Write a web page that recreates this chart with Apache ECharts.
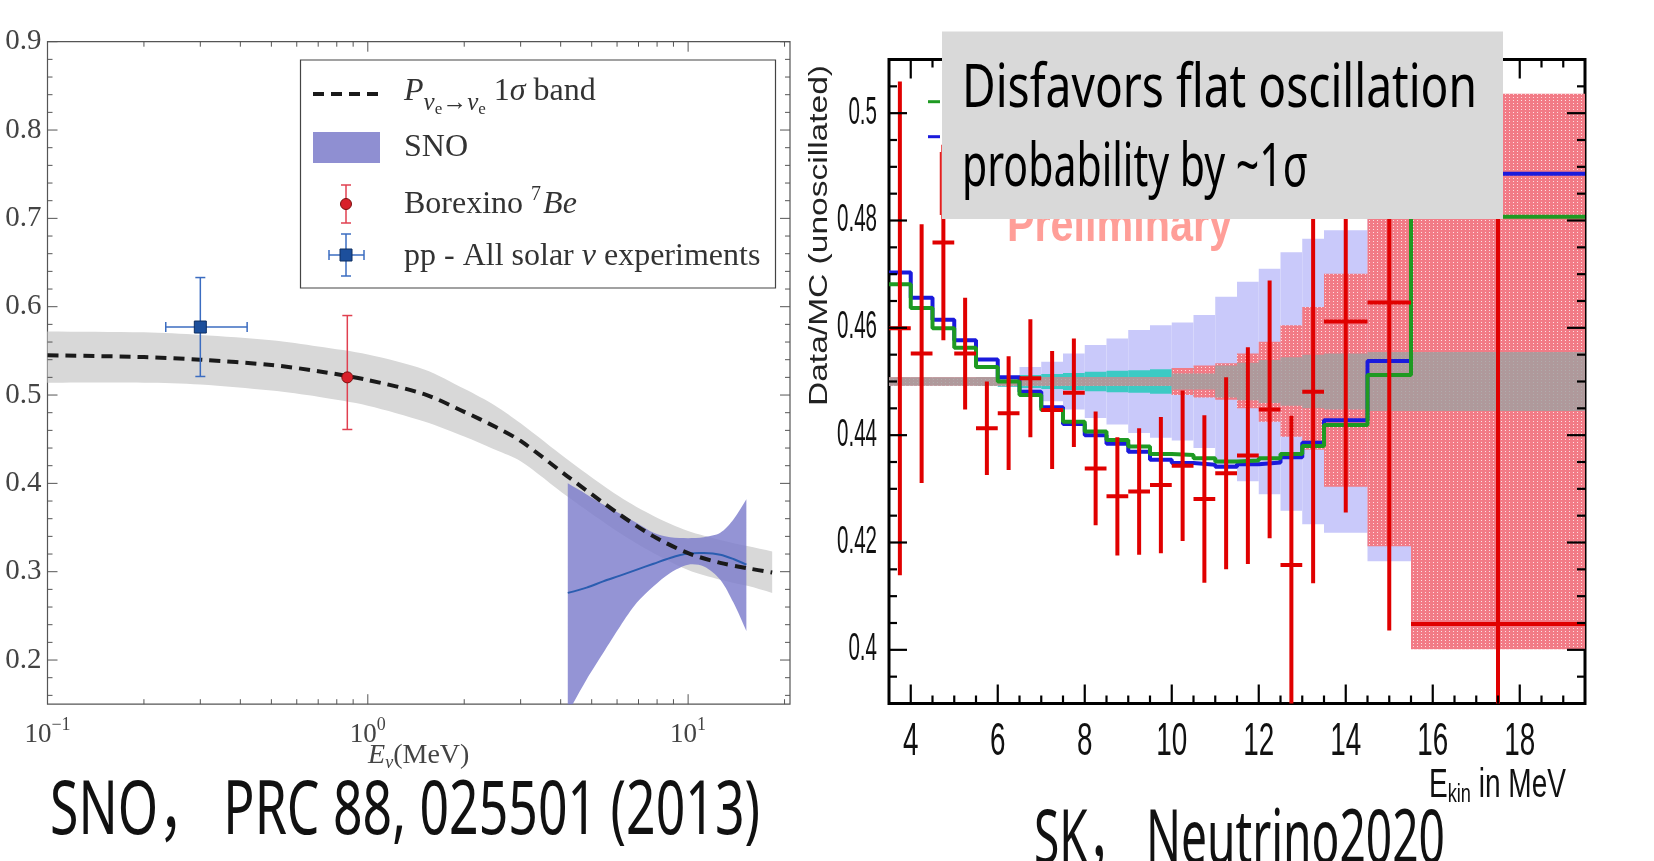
<!DOCTYPE html>
<html>
<head>
<meta charset="utf-8">
<title>Solar neutrino survival probability</title>
<script src="https://cdn.jsdelivr.net/npm/echarts@6/dist/echarts.min.js"></script>
<style>
  html, body { margin: 0; padding: 0; background: #fff; }
  #chart { width: 1654px; height: 861px; }
</style>
</head>
<body>
<div id="chart"></div>
<script>
// ---------- left panel: SNO, PRC 88 025501 (log energy axis) ----------
const pEnergy  = [0.1, 0.2, 0.3, 0.5, 0.7, 1.0, 1.5, 2.0, 2.5, 3.0, 4.2, 6.1, 7.8, 10, 12.6, 15.3, 18.3]
const pCentral = [0.545, 0.543, 0.540, 0.534, 0.527, 0.517, 0.501, 0.481, 0.464, 0.448, 0.408, 0.365, 0.340, 0.321, 0.310, 0.304, 0.299]
const pUpper   = [0.572, 0.571, 0.568, 0.562, 0.555, 0.546, 0.529, 0.507, 0.488, 0.468, 0.427, 0.385, 0.363, 0.346, 0.336, 0.329, 0.323]
const pLower   = [0.514, 0.514, 0.512, 0.505, 0.498, 0.488, 0.470, 0.453, 0.438, 0.425, 0.385, 0.344, 0.321, 0.302, 0.291, 0.284, 0.276]

const snoEnergy  = [4.21, 4.82, 5.43, 6.13, 6.92, 7.80, 8.79, 10.0, 11.2, 12.6, 13.85, 15.2]
const snoCentral = [0.276, 0.282, 0.289, 0.2955, 0.3024, 0.309, 0.3156, 0.3205, 0.3212, 0.3193, 0.3144, 0.308]
const snoUpper   = [0.400, 0.3875, 0.376, 0.3655, 0.355, 0.344, 0.339, 0.338, 0.339, 0.344, 0.359, 0.382]
const snoLower   = [0.140, 0.178, 0.208, 0.238, 0.265, 0.2835, 0.2986, 0.308, 0.306, 0.291, 0.265, 0.233]

// [E, P, Plow, Phigh, Elow, Ehigh]
const borexino = [[0.863, 0.520, 0.461, 0.590, 0.863, 0.863]]
const ppAll    = [[0.30, 0.577, 0.521, 0.633, 0.234, 0.42]]

const leftXMajor = [0.1, 1, 10]
const leftXMinor = [0.2, 0.3, 0.4, 0.5, 0.6, 0.7, 0.8, 0.9, 2, 3, 4, 5, 6, 7, 8, 9, 20]
const leftYMajor = [0.2, 0.3, 0.4, 0.5, 0.6, 0.7, 0.8, 0.9]
const LX = [0.1, 20.8], LY = [0.15, 0.9]

// ---------- right panel: SK, Neutrino2020 ----------
const skEdges = [3.5, 4, 4.5, 5, 5.5, 6, 6.5, 7, 7.5, 8, 8.5, 9, 9.5, 10, 10.5, 11, 11.5, 12, 12.5, 13, 13.5, 14.5, 15.5, 19.5]
const skRatio = [0.4599, 0.4552, 0.4759, 0.4552, 0.4413, 0.4441, 0.4506, 0.4447, 0.4479, 0.4338, 0.4286, 0.4295,
                 0.4307, 0.4343, 0.4281, 0.4329, 0.4362, 0.4448, 0.4158, 0.4481, 0.4612, 0.4647, 0.4048]
const skErr   = [0.046, 0.0241, 0.0182, 0.0104, 0.0087, 0.0106, 0.011, 0.011, 0.0101, 0.0106, 0.011, 0.0118,
                 0.0127, 0.014, 0.0156, 0.0179, 0.0202, 0.024, 0.0278, 0.0357, 0.0356, 0.0611, 0.1]
const skBlue  = [0.4703, 0.4656, 0.4615, 0.4577, 0.4541, 0.4508, 0.4481, 0.4452, 0.4421, 0.4400, 0.4384, 0.4369,
                 0.4354, 0.4348, 0.4345, 0.4341, 0.4346, 0.4349, 0.4359, 0.4386, 0.4428, 0.4538, 0.4887]
const skGreen = [0.4681, 0.4637, 0.4599, 0.4563, 0.4527, 0.4500, 0.4475, 0.4447, 0.4425, 0.4407, 0.4391, 0.4379,
                 0.4365, 0.4363, 0.4357, 0.4351, 0.4353, 0.4357, 0.4365, 0.4380, 0.4419, 0.4512, 0.4807]
const bandMid = 0.45
const lavHalf  = [0, 0, 0, 0, 0, 0.001, 0.0027, 0.0037, 0.0052, 0.0068, 0.008, 0.0096,
                  0.0105, 0.011, 0.0124, 0.0158, 0.0186, 0.021, 0.0241, 0.0266, 0.0282, 0.0335, 0.045]
const cyanHalf = [0.0006, 0.0006, 0.0006, 0.0006, 0.0008, 0.001, 0.0012, 0.0014, 0.0016, 0.0018, 0.002, 0.0021,
                  0.0023, 0.0025, 0.0027, 0.0029, 0.0031, 0.0034, 0.0037, 0.004, 0.0045, 0.005, 0.0053]
const pinkLow  = [0.4492, 0.4492, 0.4492, 0.4492, 0.4492, 0.4492, 0.4492, 0.4492, 0.4492, 0.4492, 0.4492, 0.4492,
                  0.4492, 0.4475, 0.4470, 0.4466, 0.4450, 0.4425, 0.4397, 0.4373, 0.4304, 0.4193, 0.4001]
const pinkHigh = [0.4508, 0.4508, 0.4508, 0.4508, 0.4508, 0.4508, 0.4508, 0.4508, 0.4508, 0.4508, 0.4508, 0.4508,
                  0.4508, 0.4525, 0.4530, 0.4534, 0.4552, 0.4574, 0.4605, 0.4639, 0.4701, 0.4807, 0.5036]
const grayHalf = [0.0008, 0.0008, 0.0008, 0.0008, 0.0008, 0.0008, 0.0008, 0.0008, 0.0008, 0.0008, 0.0008, 0.0008,
                  0.0008, 0.0015, 0.0015, 0.003, 0.0035, 0.004, 0.0045, 0.005, 0.0052, 0.0055, 0.0055]

const rightXMajor = [4, 6, 8, 10, 12, 14, 16, 18]
const rightYMajor = [0.40, 0.42, 0.44, 0.46, 0.48, 0.50]
const RX = [3.5, 19.5], RY = [0.39, 0.51]

// ---------- helpers ----------
const SERIF = "'Liberation Serif', 'DejaVu Serif', serif"
const SANS = "'Liberation Sans', Arial, sans-serif"
const CAPTION = "'Noto Sans', 'Noto Sans CJK SC', sans-serif"

const measureCtx = document.createElement('canvas').getContext('2d')
function textWidth(text, font) {
  measureCtx.font = font
  return measureCtx.measureText(text).width
}
function fitText(text, family, size, weight, x, y, width, fill, z) {
  const font = (weight ? weight + ' ' : '') + size + 'px ' + family
  return {
    type: 'text', x: x, y: y, z: z || 60, scaleX: width / textWidth(text, font),
    style: { text: text, font: font, fill: fill, align: 'left', verticalAlign: 'middle',
             textAlign: 'left', textVerticalAlign: 'middle' }
  }
}
function isIn(list, v) { return list.some((m) => Math.abs(m - v) < 1e-9) }
function steps(lo, hi, step) {
  const out = []
  for (let v = lo; v <= hi + 1e-9; v += step) out.push(+v.toFixed(4))
  return out
}
function ln(x1, y1, x2, y2, color, w, z) {
  return { type: 'line', z: z || 0, shape: { x1, y1, x2, y2 }, style: { stroke: color, lineWidth: w } }
}

// pink hatched fill like the ROOT pattern
const tile = document.createElement('canvas')
tile.width = 4; tile.height = 3
const tc = tile.getContext('2d')
tc.fillStyle = '#f27b86'; tc.fillRect(0, 0, 4, 3)
tc.fillStyle = '#fde0e3'; tc.fillRect(1, 1, 1, 1)
const pinkFill = { image: tile, repeat: 'repeat' }

// tick marks on all four sides, placed by the axis scales
function xTickSeries(xi, yi, ticks, majors, yExt, majLen, minLen, color, w) {
  return {
    type: 'custom', xAxisIndex: xi, yAxisIndex: yi, z: 20, silent: true,
    data: ticks.map((v) => [v, yExt[0]]),
    renderItem(params, api) {
      const v = api.value(0)
      const b = api.coord([v, yExt[0]]), t = api.coord([v, yExt[1]])
      const len = isIn(majors, v) ? majLen : minLen
      return { type: 'group', children: [ln(b[0], b[1], b[0], b[1] - len, color, w), ln(t[0], t[1], t[0], t[1] + len, color, w)] }
    }
  }
}
function yTickSeries(xi, yi, ticks, majors, xExt, majLen, minLen, color, w) {
  return {
    type: 'custom', xAxisIndex: xi, yAxisIndex: yi, z: 20, silent: true,
    data: ticks.map((v) => [xExt[0], v]),
    renderItem(params, api) {
      const v = api.value(1)
      const l = api.coord([xExt[0], v]), r = api.coord([xExt[1], v])
      const len = isIn(majors, v) ? majLen : minLen
      return { type: 'group', children: [ln(l[0], l[1], l[0] + len, l[1], color, w), ln(r[0], r[1], r[0] - len, r[1], color, w)] }
    }
  }
}

// smooth filled band between two curves (sharp ends kept by doubling the corner points)
function bandCurve(xs, lo, hi, fill, z) {
  return {
    type: 'custom', xAxisIndex: 0, yAxisIndex: 0, z: z, clip: true, silent: true,
    data: [[xs[0], hi[0]]],
    renderItem(params, api) {
      const up = xs.map((x, i) => api.coord([x, hi[i]]))
      const dn = xs.map((x, i) => api.coord([x, lo[i]])).reverse()
      const n = up.length
      const pts = [up[0]].concat(up, [up[n - 1]], [dn[0]], dn, [dn[n - 1]])
      return { type: 'polygon', shape: { points: pts, smooth: 0.3 }, style: { fill: fill } }
    }
  }
}
function curve(xs, ys, stroke, width, dash, z) {
  return {
    type: 'custom', xAxisIndex: 0, yAxisIndex: 0, z: z, clip: true, silent: true,
    data: [[xs[0], ys[0]]],
    renderItem(params, api) {
      const pts = xs.map((x, i) => api.coord([x, ys[i]]))
      return { type: 'polyline', shape: { points: pts, smooth: 0.3 },
               style: { stroke: stroke, lineWidth: width, fill: null, lineDash: dash || null } }
    }
  }
}

function errPoint(kind, fill, stroke, barColor) {
  return function (params, api) {
    const c = api.coord([api.value(0), api.value(1)])
    const lo = api.coord([api.value(0), api.value(2)])
    const hi = api.coord([api.value(0), api.value(3)])
    const l = api.coord([api.value(4), api.value(1)])
    const r = api.coord([api.value(5), api.value(1)])
    const cap = 5
    const kids = [
      ln(c[0], hi[1], c[0], lo[1], barColor, 1.5),
      ln(c[0] - cap, hi[1], c[0] + cap, hi[1], barColor, 1.5),
      ln(c[0] - cap, lo[1], c[0] + cap, lo[1], barColor, 1.5)
    ]
    if (r[0] - l[0] > 1) {
      kids.push(ln(l[0], c[1], r[0], c[1], barColor, 1.5),
        ln(l[0], c[1] - cap, l[0], c[1] + cap, barColor, 1.5),
        ln(r[0], c[1] - cap, r[0], c[1] + cap, barColor, 1.5))
    }
    if (kind === 'circle') {
      kids.push({ type: 'circle', shape: { cx: c[0], cy: c[1], r: 5.5 }, style: { fill, stroke, lineWidth: 1 } })
    } else {
      kids.push({ type: 'rect', shape: { x: c[0] - 6, y: c[1] - 6, width: 12, height: 12 }, style: { fill, stroke, lineWidth: 1 } })
    }
    return { type: 'group', children: kids }
  }
}

function bandSeries(rows, fill, z) {
  return {
    type: 'custom', xAxisIndex: 1, yAxisIndex: 1, z: z, clip: true, silent: true,
    encode: { x: [0, 1], y: [2, 3] },
    data: rows,
    renderItem(params, api) {
      const a = api.coord([api.value(0), api.value(3)])
      const b = api.coord([api.value(1), api.value(2)])
      return { type: 'rect', shape: { x: a[0], y: a[1], width: b[0] - a[0], height: b[1] - a[1] }, style: { fill: fill } }
    }
  }
}
const binRows = (low, high) => skEdges.slice(0, -1).map((e, i) => [e, skEdges[i + 1], low(i), high(i)])
const stepData = (vals) => skEdges.map((e, i) => [e, vals[Math.min(i, vals.length - 1)]])

// narrow ROOT style tick labels of the SK panel (the figure is stretched vertically)
const skXFont = '46px ' + SANS, skYFont = '38px ' + SANS
const skXScale = 31 / textWidth('10', skXFont)
const skYScale = 40 / textWidth('0.48', skYFont)

const chart = echarts.init(document.getElementById('chart'))

// legend of left panel + captions
const lgX = 404
const legendText = { fill: '#333', font: '32px ' + SERIF, verticalAlign: 'middle', textVerticalAlign: 'middle' }
const graphics = [
  { type: 'rect', z: 40, shape: { x: 300.5, y: 60, width: 475, height: 228 }, style: { fill: '#fff', stroke: '#444', lineWidth: 1.2 } },
  { type: 'line', z: 41, shape: { x1: 313, y1: 94, x2: 380, y2: 94 }, style: { stroke: '#1a1a1a', lineWidth: 4, lineDash: [11, 7] } },
  { type: 'text', z: 41, x: lgX, y: 92, style: Object.assign({}, legendText, {
      text: '{i|P}{s|ν}{ss|e}{s|→ν}{ss|e} 1{i|σ} band',
      rich: { i: { fontStyle: 'italic', fontFamily: SERIF, fontSize: 32, fill: '#333' },
              s: { fontStyle: 'italic', fontFamily: SERIF, fontSize: 25, fill: '#333', padding: [22, 0, 0, 0] },
              ss: { fontFamily: SERIF, fontSize: 17, fill: '#333', padding: [36, 0, 0, 0] } } }) },
  { type: 'rect', z: 41, shape: { x: 313, y: 132, width: 67, height: 31 }, style: { fill: '#8f8fd2' } },
  { type: 'text', z: 41, x: lgX, y: 148, style: Object.assign({}, legendText, { text: 'SNO' }) },
  ln(346, 185, 346, 223, '#e04050', 1.5, 42), ln(341, 185, 351, 185, '#e04050', 1.5, 42), ln(341, 223, 351, 223, '#e04050', 1.5, 42),
  { type: 'circle', z: 43, shape: { cx: 346, cy: 204, r: 5.5 }, style: { fill: '#d8202a', stroke: '#7a1010', lineWidth: 1 } },
  { type: 'text', z: 41, x: lgX, y: 205, style: Object.assign({}, legendText, {
      text: 'Borexino {sup|7}{i|Be}',
      rich: { sup: { fontFamily: SERIF, fontSize: 20, fill: '#333', padding: [0, 2, 20, 0] },
              i: { fontStyle: 'italic', fontFamily: SERIF, fontSize: 32, fill: '#333' } } }) },
  ln(346, 234, 346, 276, '#3b6cc0', 1.5, 42), ln(341, 234, 351, 234, '#3b6cc0', 1.5, 42), ln(341, 276, 351, 276, '#3b6cc0', 1.5, 42),
  ln(329, 255, 364, 255, '#3b6cc0', 1.5, 42), ln(329, 250, 329, 260, '#3b6cc0', 1.5, 42), ln(364, 250, 364, 260, '#3b6cc0', 1.5, 42),
  { type: 'rect', z: 43, shape: { x: 340, y: 249, width: 12, height: 12 }, style: { fill: '#1c4f9c', stroke: '#0e2e60', lineWidth: 1 } },
  { type: 'text', z: 41, x: lgX, y: 257, style: Object.assign({}, legendText, {
      text: 'pp - All solar {i|ν} experiments',
      rich: { i: { fontStyle: 'italic', fontFamily: SERIF, fontSize: 32, fill: '#333' } } }) },

  // remnants of the SK legend peeking out from behind the note
  ln(928, 101.7, 940, 101.7, '#1e9a22', 3, 60),
  ln(928, 136.7, 940, 136.7, '#1a1adc', 3, 60),
  ln(940.5, 152, 940.5, 215, '#e02020', 1.5, 60),

  // "Preliminary" watermark (mostly hidden by the note box)
  fitText('Preliminary', SANS, 50, 'bold', 1007, 227.5, 225, 'rgba(255,120,112,0.72)', 50),

  // note box
  { type: 'rect', z: 100, shape: { x: 942, y: 31.6, width: 561, height: 187.4 }, style: { fill: '#d9d9d9' } },
  fitText('Disfavors flat oscillation', CAPTION, 60, '', 962, 90, 515, '#000', 101),
  fitText('probability by ~1σ', CAPTION, 60, '', 962, 169, 346, '#000', 101),

  // y title of the SK panel
  Object.assign(fitText('Data/MC (unoscillated)', SANS, 26, '', 0, 0, 341, '#222', 60),
    { x: 820, y: 406, rotation: Math.PI / 2 }),

  // captions
  fitText('SNO， PRC 88, 025501 (2013)', CAPTION, 75, '', 50, 812.6, 710, '#111', 60),
  fitText('SK， Neutrino2020', CAPTION, 75, '', 1034, 842, 411, '#111', 60)
]

// E_kin in MeV, squeezed to its width in the picture
const ekFont = 40, ekSub = 26
const ekW = textWidth('E', ekFont + 'px ' + SANS) + textWidth('kin', ekSub + 'px ' + SANS) + textWidth(' in MeV', ekFont + 'px ' + SANS)
graphics.push({
  type: 'text', z: 60, x: 1429, y: 786, scaleX: 137 / ekW,
  style: { text: '{a|E}{s|kin}{a| in MeV}', verticalAlign: 'middle', textVerticalAlign: 'middle',
           rich: { a: { fontFamily: SANS, fontSize: ekFont, fill: '#111' },
                   s: { fontFamily: SANS, fontSize: ekSub, fill: '#111', padding: [18, 0, 0, 0] } } }
})

const option = {
  animation: false,
  backgroundColor: '#fff',
  grid: [
    { left: 47.5, top: 41.7, width: 742.5, height: 662.5, show: true, borderColor: '#555', borderWidth: 1.2,
      backgroundColor: 'rgba(0,0,0,0)', containLabel: false, outerBoundsMode: 'none' },
    { left: 889, top: 59.5, width: 696, height: 644, show: true, borderColor: '#000', borderWidth: 3,
      backgroundColor: 'rgba(0,0,0,0)', containLabel: false, outerBoundsMode: 'none' }
  ],
  xAxis: [
    {
      gridIndex: 0, type: 'log', logBase: 10, min: LX[0], max: LX[1],
      axisLine: { show: false }, axisTick: { show: false }, splitLine: { show: false },
      axisLabel: {
        margin: 12, color: '#444',
        formatter(v) {
          const e = Math.log10(v)
          if (Math.abs(e - Math.round(e)) > 1e-6) return ''
          const r = Math.round(e)
          return '{b|10}{s|' + (r < 0 ? '−' + (-r) : r) + '}'
        },
        rich: { b: { fontFamily: SERIF, fontSize: 27, color: '#444' },
                s: { fontFamily: SERIF, fontSize: 18, color: '#444', padding: [0, 0, 20, 0] } }
      },
      name: '{i|E}{s|ν}{n|(MeV)}', nameLocation: 'middle', nameGap: 34, nameMoveOverlap: false,
      nameTextStyle: { rich: { i: { fontFamily: SERIF, fontStyle: 'italic', fontSize: 28, color: '#444' },
                               s: { fontFamily: SERIF, fontStyle: 'italic', fontSize: 18, color: '#444', padding: [16, 0, 0, 0] },
                               n: { fontFamily: SERIF, fontSize: 28, color: '#444' } } }
    },
    {
      gridIndex: 1, type: 'value', min: RX[0], max: RX[1], interval: 0.5,
      axisLine: { show: false }, axisTick: { show: false }, splitLine: { show: false },
      axisLabel: { show: false }
    }
  ],
  yAxis: [
    {
      gridIndex: 0, type: 'value', min: LY[0], max: LY[1], interval: 0.05,
      axisLine: { show: false }, axisTick: { show: false }, splitLine: { show: false },
      axisLabel: {
        margin: 6, fontFamily: SERIF, fontSize: 29, color: '#444',
        formatter: (v) => (isIn(leftYMajor, v) ? v.toFixed(1) : '')
      }
    },
    {
      gridIndex: 1, type: 'value', min: RY[0], max: RY[1], interval: 0.005,
      axisLine: { show: false }, axisTick: { show: false }, splitLine: { show: false },
      axisLabel: { show: false }
    }
  ],
  graphic: graphics,
  series: [
    // ---- left panel ----
    bandCurve(pEnergy, pLower, pUpper, '#d8d8d8', 2),
    bandCurve(snoEnergy, snoLower, snoUpper, 'rgba(124,124,204,0.82)', 3),
    curve(snoEnergy, snoCentral, '#2a5db0', 2, null, 4),
    curve(pEnergy, pCentral, '#1a1a1a', 4, [11, 7], 5),
    { type: 'custom', xAxisIndex: 0, yAxisIndex: 0, z: 6, data: borexino,
      renderItem: errPoint('circle', '#d8202a', '#7a1010', '#e04050') },
    { type: 'custom', xAxisIndex: 0, yAxisIndex: 0, z: 6, data: ppAll,
      renderItem: errPoint('square', '#1c4f9c', '#0e2e60', '#3b6cc0') },
    xTickSeries(0, 0, leftXMajor.concat(leftXMinor), leftXMajor, LY, 10, 5, '#555', 1),
    yTickSeries(0, 0, steps(0.16, 0.9, 0.02), leftYMajor, LX, 10, 5, '#555', 1),

    // ---- right panel ----
    bandSeries(binRows((i) => bandMid - lavHalf[i], (i) => bandMid + lavHalf[i]), '#c9c9fa', 2),
    bandSeries(binRows((i) => bandMid - cyanHalf[i], (i) => bandMid + cyanHalf[i]), '#3ccac4', 3),
    bandSeries(binRows((i) => pinkLow[i], (i) => pinkHigh[i]), pinkFill, 4),
    bandSeries(binRows((i) => bandMid - grayHalf[i], (i) => bandMid + grayHalf[i]), 'rgba(160,160,160,0.82)', 5),
    { type: 'line', xAxisIndex: 1, yAxisIndex: 1, step: 'end', symbol: 'none', silent: true, z: 6,
      lineStyle: { color: '#1a1adc', width: 4 }, data: stepData(skBlue) },
    { type: 'line', xAxisIndex: 1, yAxisIndex: 1, step: 'end', symbol: 'none', silent: true, z: 7,
      lineStyle: { color: '#1e9a22', width: 4 }, data: stepData(skGreen) },
    {
      type: 'custom', xAxisIndex: 1, yAxisIndex: 1, z: 8, clip: true,
      data: skRatio.map((v, i) => [(skEdges[i] + skEdges[i + 1]) / 2, v, skEdges[i], skEdges[i + 1], skErr[i]]),
      renderItem(params, api) {
        const x = api.value(0), v = api.value(1), e = api.value(4)
        const top = api.coord([x, v + e]), bot = api.coord([x, v - e])
        const l = api.coord([api.value(2), v]), r = api.coord([api.value(3), v])
        return { type: 'group', children: [ln(top[0], top[1], bot[0], bot[1], '#e00000', 4), ln(l[0], l[1], r[0], r[1], '#e00000', 4)] }
      }
    },
    xTickSeries(1, 1, steps(4, 19, 0.5), rightXMajor, RY, 19, 8, '#000', 2.2),
    yTickSeries(1, 1, steps(0.395, 0.505, 0.005), rightYMajor, RX, 18, 8, '#000', 2.2),
    // tick labels of the SK panel
    {
      type: 'custom', xAxisIndex: 1, yAxisIndex: 1, z: 20, silent: true,
      data: rightXMajor.map((v) => [v, RY[0]]),
      renderItem(params, api) {
        const p = api.coord([api.value(0), RY[0]])
        return { type: 'text', x: p[0], y: p[1] + 39, scaleX: skXScale,
                 style: { text: String(api.value(0)), font: skXFont, fill: '#111', align: 'center', verticalAlign: 'middle' } }
      }
    },
    {
      type: 'custom', xAxisIndex: 1, yAxisIndex: 1, z: 20, silent: true,
      data: rightYMajor.map((v) => [RX[0], v]),
      renderItem(params, api) {
        const p = api.coord([RX[0], api.value(1)])
        return { type: 'text', x: p[0] - 12, y: p[1], scaleX: skYScale,
                 style: { text: String(+api.value(1).toFixed(2)), font: skYFont, fill: '#111', align: 'right', verticalAlign: 'middle' } }
      }
    }
  ]
}

chart.setOption(option)
window.addEventListener('resize', () => {
  chart.resize()
})
</script>
</body>
</html>
